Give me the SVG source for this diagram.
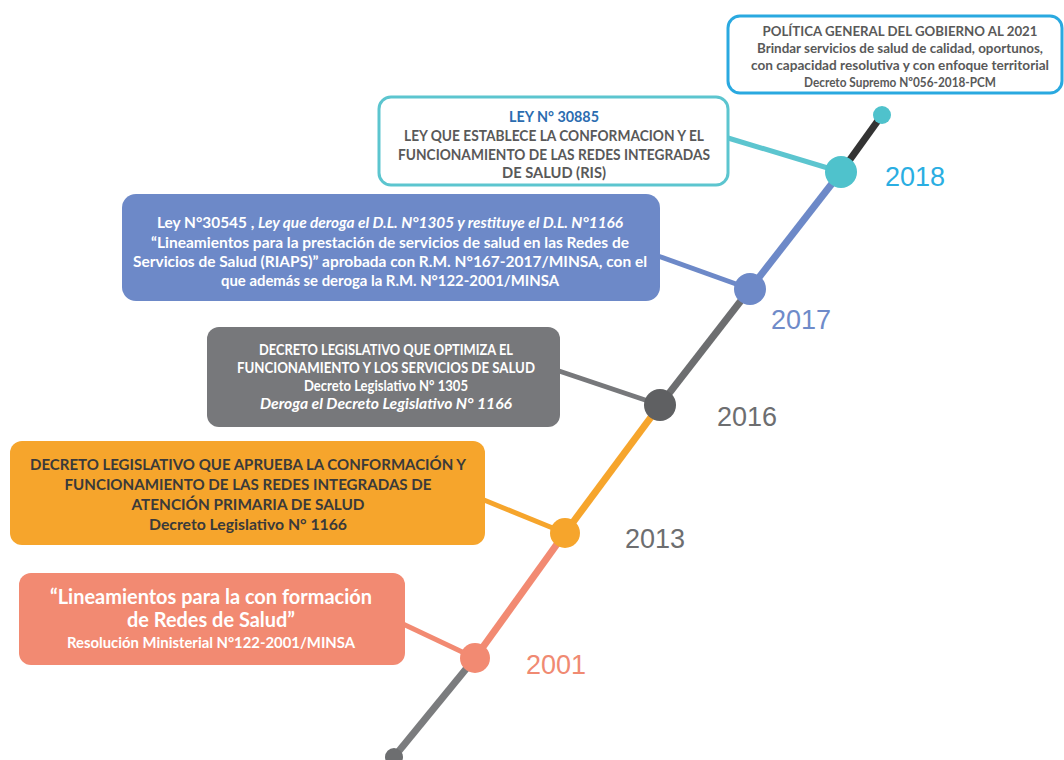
<svg xmlns="http://www.w3.org/2000/svg" width="1064" height="760" viewBox="0 0 1064 760">
<style>
.t{font-family:Lato,"Open Sans","Liberation Sans",sans-serif;font-weight:bold;text-anchor:middle}
.yr{font-family:"Liberation Sans",Arial,sans-serif;font-size:27px}
.seg{stroke-width:7;fill:none;stroke-linecap:butt}
.con{stroke-width:5;fill:none}
.w{fill:#ffffff}
</style>
<rect width="1064" height="760" fill="#ffffff"/>
<g id="connectors">
  <line class="con" x1="728" y1="138" x2="841" y2="172" stroke="#5cc5cf"/>
  <line class="con" x1="658" y1="256" x2="750" y2="289" stroke="#6d89c8"/>
  <line class="con" x1="559" y1="371" x2="660" y2="405" stroke="#77787b"/>
  <line class="con" x1="484" y1="500" x2="565" y2="533" stroke="#f6a52c"/>
  <line class="con" x1="403" y1="624" x2="475" y2="658" stroke="#f28a72"/>
  <line class="seg" x1="394" y1="757" x2="475" y2="658" stroke="#7b7c7e"/>
  <line class="seg" x1="475" y1="658" x2="565" y2="533" stroke="#f28a72"/>
  <line class="seg" x1="565" y1="533" x2="660" y2="405" stroke="#f6a52c"/>
  <line class="seg" x1="660" y1="405" x2="750" y2="289" stroke="#6d6e70"/>
  <line class="seg" x1="750" y1="289" x2="841" y2="172" stroke="#6d89c8"/>
  <line class="seg" x1="841" y1="172" x2="882" y2="115" stroke="#333333"/>
</g>
<g id="dot-bottom"><circle cx="394" cy="757" r="9" fill="#6d6e70"/></g>
<g id="node-2001"><circle cx="475" cy="658" r="15" fill="#f28a72"/><text class="yr" x="556" y="674" fill="#f08a72" text-anchor="middle">2001</text></g>
<g id="node-2013"><circle cx="565" cy="533" r="15" fill="#f6a52c"/><text class="yr" x="655" y="548" fill="#6d6e70" text-anchor="middle">2013</text></g>
<g id="node-2016"><circle cx="660" cy="405" r="16" fill="#5f6062"/><text class="yr" x="747" y="426" fill="#6d6e70" text-anchor="middle">2016</text></g>
<g id="node-2017"><circle cx="750" cy="289" r="16" fill="#6d89c8"/><text class="yr" x="801" y="329" fill="#6f8bc9" text-anchor="middle">2017</text></g>
<g id="node-2018"><circle cx="841" cy="172" r="16" fill="#4fc2cc"/><text class="yr" x="915" y="186" fill="#2aaee2" text-anchor="middle">2018</text></g>
<g id="dot-top"><circle cx="882" cy="115" r="9" fill="#4fc2cc"/></g>

<g id="box-2021">
  <rect x="728" y="16" width="334" height="77" rx="12" fill="#ffffff" stroke="#2aa9e0" stroke-width="3"/>
  <text class="t" x="900" y="36" font-size="13.5" fill="#595959" textLength="275" lengthAdjust="spacingAndGlyphs">POLÍTICA GENERAL DEL GOBIERNO AL 2021</text>
  <text class="t" x="900" y="53" font-size="13.5" fill="#595959" textLength="286" lengthAdjust="spacingAndGlyphs">Brindar servicios de salud de calidad, oportunos,</text>
  <text class="t" x="900" y="70" font-size="13.5" fill="#595959" textLength="298" lengthAdjust="spacingAndGlyphs">con capacidad resolutiva y con enfoque territorial</text>
  <text class="t" x="900" y="87" font-size="13.5" fill="#595959" textLength="192" lengthAdjust="spacingAndGlyphs">Decreto Supremo Nº056-2018-PCM</text>
</g>
<g id="box-2018">
  <rect x="379" y="97" width="349" height="88" rx="12" fill="#ffffff" stroke="#5cc5cf" stroke-width="3"/>
  <text class="t" x="554" y="122" font-size="15" fill="#2b6cb0" textLength="90" lengthAdjust="spacingAndGlyphs">LEY N° 30885</text>
  <text class="t" x="554" y="141" font-size="15" fill="#595959" textLength="300" lengthAdjust="spacingAndGlyphs">LEY QUE ESTABLECE LA CONFORMACION Y EL</text>
  <text class="t" x="554" y="160" font-size="15" fill="#595959" textLength="312" lengthAdjust="spacingAndGlyphs">FUNCIONAMIENTO DE LAS REDES INTEGRADAS</text>
  <text class="t" x="554" y="178" font-size="15" fill="#595959" textLength="104" lengthAdjust="spacingAndGlyphs">DE SALUD (RIS)</text>
</g>
<g id="box-2017">
  <rect x="122" y="194" width="538" height="107" rx="14" fill="#6d89c8"/>
  <text class="t w" x="390" y="228" font-size="15.5" textLength="466" lengthAdjust="spacingAndGlyphs">Ley N°30545 , <tspan font-style="italic">Ley que deroga el D.L. N°1305 y restituye el D.L. N°1166</tspan></text>
  <text class="t w" x="390" y="248" font-size="15.5" textLength="478" lengthAdjust="spacingAndGlyphs">“Lineamientos para la prestación de servicios de salud en las Redes de</text>
  <text class="t w" x="390" y="267" font-size="15.5" textLength="514" lengthAdjust="spacingAndGlyphs">Servicios  de Salud (RIAPS)” aprobada con R.M. N°167-2017/MINSA, con el</text>
  <text class="t w" x="390" y="286" font-size="15.5" textLength="338" lengthAdjust="spacingAndGlyphs">que además se deroga la R.M. N°122-2001/MINSA</text>
</g>
<g id="box-2016">
  <rect x="207" y="327" width="353" height="100" rx="12" fill="#77787b"/>
  <text class="t w" x="386" y="355" font-size="14.5" textLength="254" lengthAdjust="spacingAndGlyphs">DECRETO LEGISLATIVO QUE OPTIMIZA EL</text>
  <text class="t w" x="386" y="373" font-size="14.5" textLength="298" lengthAdjust="spacingAndGlyphs">FUNCIONAMIENTO Y LOS SERVICIOS DE SALUD</text>
  <text class="t w" x="386" y="391" font-size="14.5" textLength="164" lengthAdjust="spacingAndGlyphs">Decreto Legislativo N° 1305</text>
  <text class="t w" x="386" y="409" font-size="15" font-style="italic" textLength="252" lengthAdjust="spacingAndGlyphs">Deroga el Decreto Legislativo N° 1166</text>
</g>
<g id="box-2013">
  <rect x="10" y="441" width="475" height="104" rx="12" fill="#f6a52c"/>
  <text class="t" x="248" y="470" font-size="16" fill="#3a3a3a" textLength="436" lengthAdjust="spacingAndGlyphs">DECRETO LEGISLATIVO QUE APRUEBA LA CONFORMACIÓN Y</text>
  <text class="t" x="248" y="490" font-size="16" fill="#3a3a3a" textLength="367" lengthAdjust="spacingAndGlyphs">FUNCIONAMIENTO DE LAS REDES INTEGRADAS DE</text>
  <text class="t" x="248" y="510" font-size="16" fill="#3a3a3a" textLength="233" lengthAdjust="spacingAndGlyphs">ATENCIÓN PRIMARIA DE SALUD</text>
  <text class="t" x="248" y="530" font-size="14.5" fill="#3a3a3a" textLength="198" lengthAdjust="spacingAndGlyphs">Decreto Legislativo N° 1166</text>
</g>
<g id="box-2001">
  <rect x="19" y="573" width="386" height="92" rx="12" fill="#f28a72"/>
  <text class="t w" x="211" y="604" font-size="20" textLength="322" lengthAdjust="spacingAndGlyphs">“Lineamientos para la con formación</text>
  <text class="t w" x="211" y="627" font-size="20" textLength="168" lengthAdjust="spacingAndGlyphs">de Redes de Salud”</text>
  <text class="t w" x="211" y="648" font-size="14.5" textLength="288" lengthAdjust="spacingAndGlyphs">Resolución Ministerial N°122-2001/MINSA</text>
</g>
</svg>
